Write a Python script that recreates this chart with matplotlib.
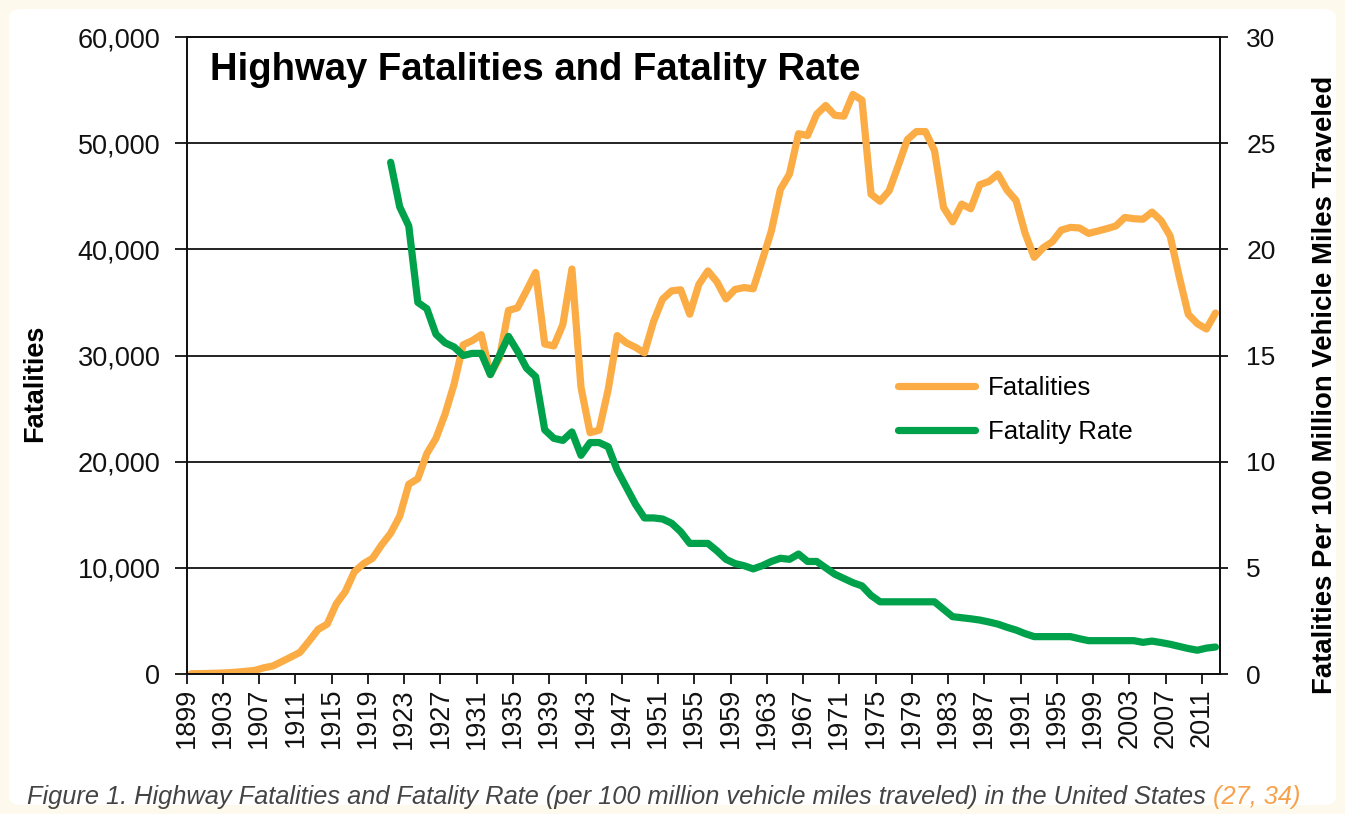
import matplotlib
matplotlib.use("Agg")
import matplotlib.pyplot as plt
from matplotlib.patches import FancyBboxPatch
import numpy as np

plt.rcParams['font.family'] = ['Liberation Sans', 'DejaVu Sans']

# data: US highway fatalities 1899-2012, fatality rate 1921-2012
years = np.arange(1899, 2013)
fatalities = [
    26, 36, 54, 79, 117, 172, 252, 338, 581, 751,                     # 1899-1908
    1174, 1599, 2043, 3100, 4200, 4700, 6600, 7766, 9630, 10390,      # 1909-1918
    10896, 12155, 13253, 14859, 17870, 18400, 20771, 22194, 24470, 27299,  # 1919-1928
    31000, 31400, 31963, 28206, 29746, 34240, 34494, 36126, 37819, 31083,  # 1929-1938
    30895, 32914, 38142, 27007, 22727, 22969, 26785, 31874, 31193, 30775,  # 1939-1948
    30246, 33186, 35309, 36088, 36190, 33890, 36688, 37965, 36932, 35331,  # 1949-1958
    36223, 36399, 36285, 38980, 41723, 45645, 47089, 50894, 50724, 52725,  # 1959-1968
    53543, 52627, 52542, 54589, 54052, 45196, 44525, 45523, 47878, 50331,  # 1969-1978
    51093, 51091, 49301, 43945, 42589, 44257, 43825, 46087, 46390, 47087,  # 1979-1988
    45582, 44599, 41508, 39250, 40150, 40716, 41817, 42065, 42013, 41501,  # 1989-1998
    41717, 41945, 42196, 43005, 42884, 42836, 43510, 42708, 41259, 37423,  # 1999-2008
    33883, 33000, 32500, 34000,                                        # 2009-2012
]
rate_years = np.arange(1921, 2013)
rate = [
    24.1, 22.0, 21.1, 17.5, 17.2, 16.0, 15.6, 15.4, 15.0, 15.1,   # 1921-1930
    15.1, 14.1, 15.0, 15.9, 15.2, 14.4, 14.0, 11.5, 11.1, 11.0,   # 1931-1940
    11.4, 10.3, 10.9, 10.9, 10.7, 9.6, 8.8, 8.0, 7.35, 7.35,      # 1941-1950
    7.3, 7.1, 6.7, 6.15, 6.15, 6.15, 5.8, 5.4, 5.2, 5.1,          # 1951-1960
    4.95, 5.1, 5.3, 5.45, 5.4, 5.65, 5.3, 5.3, 5.0, 4.7,          # 1961-1970
    4.5, 4.3, 4.15, 3.7, 3.4, 3.4, 3.4, 3.4, 3.4, 3.4,            # 1971-1980
    3.4, 3.05, 2.7, 2.65, 2.6, 2.54, 2.45, 2.35, 2.2, 2.07,       # 1981-1990
    1.9, 1.76, 1.76, 1.76, 1.76, 1.76, 1.66, 1.57, 1.57, 1.57,    # 1991-2000
    1.57, 1.57, 1.57, 1.49, 1.55, 1.48, 1.40, 1.30, 1.20, 1.12,   # 2001-2010
    1.22, 1.27,                                                    # 2011-2012
]
tick_years = list(range(1899, 2012, 4))

orange = '#FBAC45'
green = '#00A14B'

fig = plt.figure(figsize=(13.45, 8.14), dpi=100, facecolor='#FDF9EC')
fig.patches.append(FancyBboxPatch((9 / 1345, 9 / 814), 1327 / 1345, 796 / 814,
                                  boxstyle='round,pad=0,rounding_size=0.01',
                                  transform=fig.transFigure, facecolor='white',
                                  edgecolor='none', zorder=-10))

ax = fig.add_axes([186.7 / 1345, 1 - 674 / 814, (1220 - 186.7) / 1345, (674 - 37) / 814])
ax.set_facecolor('none')
ax2 = ax.twinx()

l1, = ax.plot(years, fatalities, color=orange, lw=5.2, solid_joinstyle='round',
              solid_capstyle='round', label='Fatalities')
l2, = ax2.plot(rate_years, rate, color=green, lw=5.2, solid_joinstyle='round',
               solid_capstyle='round', label='Fatality Rate')

ax.set_xlim(1898.5, 2012.5)
ax.set_ylim(0, 60000)
ax2.set_ylim(0, 30)

ax.set_yticks(np.arange(0, 60001, 10000))
ax.set_yticklabels([f'{v:,}' for v in range(0, 60001, 10000)])
ax2.set_yticks(np.arange(0, 31, 5))

ax.set_xticks(np.array(tick_years) - 0.5)
ax.set_xticklabels([str(y) for y in tick_years], rotation=90, fontsize=19.5)

ax.grid(axis='y', color='#111111', lw=1.3)
ax.set_axisbelow(True)
for a in (ax, ax2):
    for s in a.spines.values():
        s.set_color('#111111')
        s.set_linewidth(1.3)
ax.tick_params(axis='y', length=9, width=1.3, pad=10, labelsize=19.5, colors='#111111')
ax.tick_params(axis='x', length=7, width=1.3, pad=3, colors='#111111')
ax2.tick_params(axis='y', length=6, width=1.3, pad=13, labelsize=19, colors='#111111')

fig.text(210 / 1345, 1 - 80 / 814, 'Highway Fatalities and Fatality Rate',
         fontsize=27.5, fontweight='bold', va='baseline', ha='left')
fig.text(35 / 1345, 1 - 383 / 814, 'Fatalities', rotation=90, fontsize=19.5,
         fontweight='bold', ha='center', va='center')
fig.text(1325 / 1345, 1 - 385 / 814, 'Fatalities Per 100 Million Vehicle Miles Traveled',
         rotation=90, fontsize=19.8, fontweight='bold', ha='center', va='center')

ax2.legend(handles=[l1, l2], loc='upper left', bbox_to_anchor=(0.688, 0.468),
           frameon=False, fontsize=18.5, handlelength=3.0, handletextpad=0.5,
           labelspacing=0.8, borderpad=0, borderaxespad=0)

cap = fig.text(27 / 1345, 1 - 804 / 814,
               'Figure 1. Highway Fatalities and Fatality Rate (per 100 million vehicle '
               'miles traveled) in the United States ',
               fontsize=18.3, style='italic', color='#444444', va='baseline', ha='left')
fig.canvas.draw()
bb = cap.get_window_extent()
fig.text(bb.x1 / 1345, 1 - 804 / 814, '(27, 34)', fontsize=18.3, style='italic',
         color='#F7A24B', va='baseline', ha='left')

fig.savefig('out.png', dpi=100, facecolor=fig.get_facecolor())
